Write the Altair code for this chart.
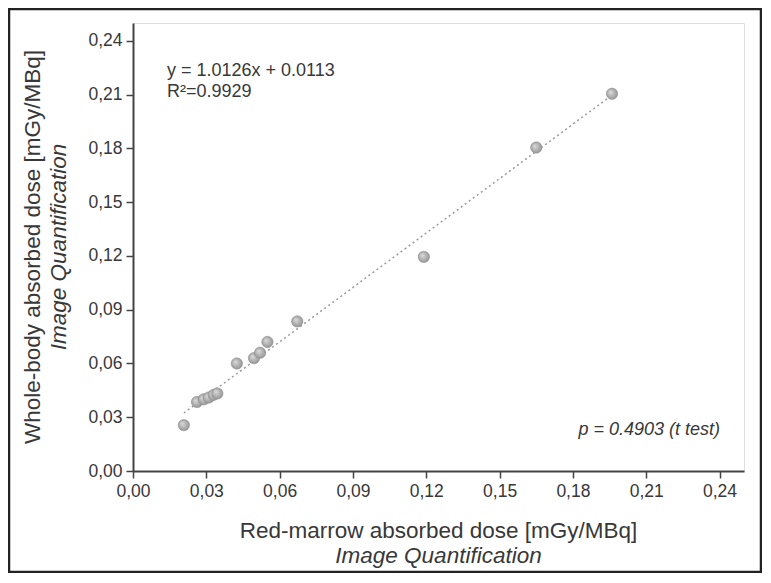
import altair as alt
import pandas as pd

# Data
red_marrow = [0.0208, 0.0262, 0.0290, 0.0310, 0.0330, 0.0345, 0.0425,
              0.0495, 0.0520, 0.0550, 0.0672, 0.1190, 0.1650, 0.1960]
whole_body = [0.0256, 0.0385, 0.0400, 0.0410, 0.0425, 0.0433, 0.0600,
              0.0630, 0.0660, 0.0720, 0.0835, 0.1195, 0.1805, 0.2105]
slope = 1.0126
intercept = 0.0113
tick_values = [round(0.015 * k, 3) for k in range(17)]

eq_text = "y = 1.0126x + 0.0113"
r2_text = "R\u00b2=0.9929"
p_text = "p = 0.4903 (t test)"
x_title = "Red-marrow absorbed dose [mGy/MBq]"
y_title = "Whole-body absorbed dose [mGy/MBq]"
sub_title = "Image Quantification"

W, H = 611, 448
FONT = "Liberation Sans"
TXT = "#383838"

pts = pd.DataFrame({"x": red_marrow, "y": whole_body})
xs = [min(red_marrow), max(red_marrow)]
fit = pd.DataFrame({"x": xs, "y": [slope * v + intercept for v in xs]})

label_expr = ("round(datum.value*1000) % 30 == 0 ? "
              "replace(format(datum.value, '.2f'), '.', ',') : ''")
tick_size = {"condition": {"test": "round(datum.value*1000) % 30 != 0", "value": 4},
             "value": 7}

def make_axis():
    return alt.Axis(values=tick_values, labelExpr=label_expr, tickSize=tick_size,
                    title=None, grid=False, labelOverlap=False, labelFlush=False,
                    labelFont=FONT, labelFontSize=17.5, labelColor=TXT,
                    labelPadding=4, domainColor="#444444", domainWidth=2,
                    tickColor="#444444", tickWidth=1.5)

xs_scale = alt.Scale(domain=[0, 0.25], nice=False, zero=False)
ys_scale = alt.Scale(domain=[0, 0.25], nice=False, zero=False)

line = alt.Chart(fit).mark_line(color="#9a9a9a", strokeDash=[2, 3], strokeWidth=1.5).encode(
    x=alt.X("x:Q", scale=xs_scale, axis=make_axis()),
    y=alt.Y("y:Q", scale=ys_scale, axis=make_axis()),
)

grad = alt.RadialGradient(
    gradient="radial",
    stops=[alt.GradientStop(offset=0, color="#dcdcdc"),
           alt.GradientStop(offset=1, color="#8c8c8c")],
    x1=0.35, y1=0.35, r1=0, x2=0.5, y2=0.5, r2=0.6,
)
points = alt.Chart(pts).mark_point(filled=True, size=130, color=grad, opacity=1,
                                   stroke="#8a8a8a", strokeWidth=0.5).encode(
    x="x:Q", y="y:Q"
)

one = alt.Data(values=[{}])

def txt(text, x, y, size=18, italic=False, align="left", angle=0):
    kw = dict(font=FONT, fontSize=size, color=TXT, align=align, baseline="alphabetic")
    if italic:
        kw["fontStyle"] = "italic"
    if angle:
        kw["angle"] = angle
    return alt.Chart(one).mark_text(**kw).encode(
        x=alt.value(x), y=alt.value(y), text=alt.value(text))

border = alt.Chart(one).mark_rect(fillOpacity=0, stroke="#222222", strokeWidth=2.5).encode(
    x=alt.value(-124), x2=alt.value(628), y=alt.value(-14), y2=alt.value(549))

chart = alt.layer(
    line, points,
    txt(eq_text, 34, 53),
    txt(r2_text, 34, 74),
    txt(p_text, 587, 412, italic=True, align="right"),
    txt(x_title, W / 2, 515, size=22.5, align="center"),
    txt(sub_title, W / 2, 540, size=22.5, italic=True, align="center"),
    txt(y_title, -93, H / 2, size=22.5, align="center", angle=270),
    txt(sub_title, -67, H / 2, size=22.5, italic=True, align="center", angle=270),
    border,
).properties(
    width=W, height=H,
    autosize=alt.AutoSizeParams(type="none"),
    padding={"left": 125, "top": 15, "right": 18, "bottom": 102},
).configure_view(
    stroke="#444444", strokeWidth=2
).configure(background="white")

chart.save("out.html", embed_options={"renderer": "svg", "actions": False})
